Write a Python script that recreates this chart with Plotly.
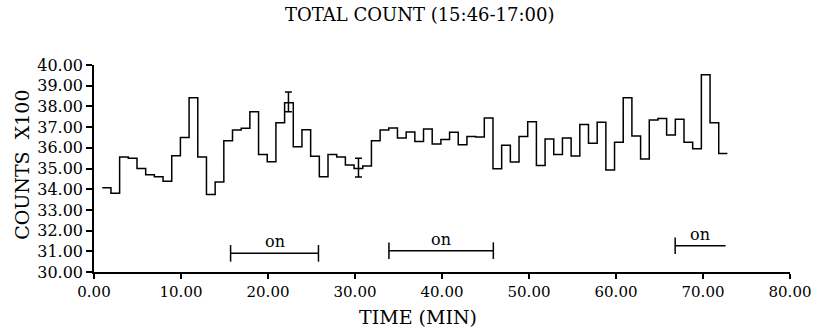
import plotly.graph_objects as go

# ---- data ----
counts = [
    34.07, 33.80, 35.55, 35.50, 35.00, 34.70, 34.60, 34.38, 35.62, 36.50,
    38.42, 35.56, 33.75, 34.35, 36.34, 36.86, 36.94, 37.74, 35.68, 35.33,
    37.21, 38.18, 36.05, 36.87, 35.59, 34.60, 35.68, 35.56, 35.17, 35.00,
    35.12, 36.34, 36.86, 36.96, 36.47, 36.76, 36.30, 36.91, 36.18, 36.40,
    36.75, 36.15, 36.55, 36.52, 37.44, 34.99, 36.12, 35.31, 36.55, 37.26,
    35.15, 36.43, 35.68, 36.47, 35.60, 37.13, 36.22, 37.23, 34.93, 36.27,
    38.42, 36.57, 35.46, 37.34, 37.41, 36.62, 37.38, 36.27, 35.96, 39.53,
    37.21, 35.73,
]
bin_start = 0.95      # minutes
bin_width = 0.998     # minutes
bin_edges = [round(bin_start + i * bin_width, 3) for i in range(len(counts) + 1)]

err_x = [22.35, 30.4]
err_y = [38.18, 35.00]
err_plus = [0.52, 0.49]
err_minus = [0.44, 0.41]

on_start = [15.7, 33.9, 66.8]
on_end = [25.8, 45.9, 72.6]
on_level = [30.90, 31.03, 31.27]
on_end_cap = [True, True, False]
on_label = ["on", "on", "on"]

x_ticks = [0, 10, 20, 30, 40, 50, 60, 70, 80]
x_ticktext = ["0.00", "10.00", "20.00", "30.00", "40.00", "50.00", "60.00", "70.00", "80.00"]
y_ticks = [30, 31, 32, 33, 34, 35, 36, 37, 38, 39, 40]
y_ticktext = ["30.00", "31.00", "32.00", "33.00", "34.00", "35.00",
              "36.00", "37.00", "38.00", "39.00", "40.00"]

title_text = "TOTAL COUNT (15:46-17:00)"
x_title = "TIME (MIN)"
y_title = "COUNTS \u00a0X100"

# ---- figure ----
FONT = "DejaVu Serif"
cap = 0.4
L, R, T, B, W, H = 94, 25, 65, 55, 823, 327
PW, PH = W - L - R, H - T - B


def px_to_paper(px, py):
    return (px - L) / PW, (H - B - py) / PH


fig = go.Figure()

fig.add_trace(go.Scatter(
    x=bin_edges, y=counts + [counts[-1]], mode="lines",
    line=dict(shape="hv", color="black", width=1.5),
    showlegend=False, hoverinfo="skip"))

fig.add_trace(go.Scatter(
    x=err_x, y=err_y, mode="markers",
    marker=dict(size=1, color="black"),
    error_y=dict(type="data", symmetric=False, array=err_plus, arrayminus=err_minus,
                 color="black", thickness=1.5, width=3.5),
    showlegend=False, hoverinfo="skip"))

bx, by = [], []
for s, e, lv, ec in zip(on_start, on_end, on_level, on_end_cap):
    bx += [s, e, None, s, s, None]
    by += [lv, lv, None, lv - cap, lv + cap, None]
    if ec:
        bx += [e, e, None]
        by += [lv - cap, lv + cap, None]
fig.add_trace(go.Scatter(x=bx, y=by, mode="lines",
                         line=dict(color="black", width=1.5),
                         showlegend=False, hoverinfo="skip"))

for s, e, lv, lab in zip(on_start, on_end, on_level, on_label):
    fig.add_annotation(x=(s + e) / 2, y=lv, xref="x", yref="y", text=lab,
                       showarrow=False, yanchor="bottom", yshift=0,
                       font=dict(family=FONT, size=16, color="black"))

tx, ty = px_to_paper(424, 14)
fig.add_annotation(x=tx, y=ty, xref="paper", yref="paper",
                   text=title_text, showarrow=False, xanchor="center", yanchor="middle",
                   font=dict(family=FONT, size=18, color="black"))

fig.update_layout(
    width=W, height=H,
    margin=dict(l=L, r=R, t=T, b=B),
    paper_bgcolor="white", plot_bgcolor="white",
    showlegend=False,
    xaxis=dict(range=[0, 80], tickvals=x_ticks, ticktext=x_ticktext,
               showline=True, linecolor="black", linewidth=1.5,
               ticks="outside", ticklen=5, tickwidth=1.5, tickcolor="black",
               showgrid=False, zeroline=False,
               tickfont=dict(family=FONT, size=15, color="black")),
    yaxis=dict(range=[30, 40], tickvals=y_ticks, ticktext=y_ticktext,
               showline=True, linecolor="black", linewidth=1.5,
               ticks="outside", ticklen=6, tickwidth=1.5, tickcolor="black",
               showgrid=False, zeroline=False,
               tickfont=dict(family=FONT, size=16, color="black")),
)

# axis titles placed as annotations (pixel positions from the reference)
ax_, ay_ = px_to_paper(422, 317)
fig.add_annotation(xref="paper", yref="paper", x=ax_, y=ay_,
                   text=x_title, showarrow=False, xanchor="center", yanchor="middle",
                   font=dict(family=FONT, size=19, color="black"))
bx_, by_ = px_to_paper(20.5, 164.5)
fig.add_annotation(xref="paper", yref="paper", x=bx_, y=by_,
                   text=y_title, showarrow=False, xanchor="center", yanchor="middle",
                   textangle=-90,
                   font=dict(family=FONT, size=19, color="black"))

fig.write_html("out.html")
